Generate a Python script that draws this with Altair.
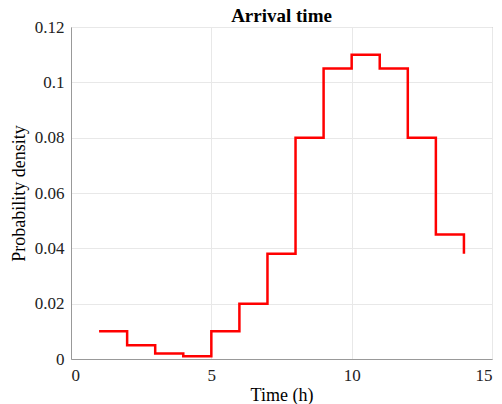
import altair as alt
import pandas as pd

time_h = [1, 2, 3, 4, 5, 6, 7, 8, 9, 10, 11, 12, 13, 14]
density = [0.010, 0.005, 0.002, 0.001, 0.010, 0.020, 0.038, 0.080, 0.105, 0.110, 0.105, 0.080, 0.045, 0.038]

df = pd.DataFrame({"t": time_h, "p": density})

FONT = "Liberation Serif"

chart = alt.Chart(df).mark_line(
    interpolate="step-after", color="#ff0000", strokeWidth=2.5
).encode(
    x=alt.X("t:Q", scale=alt.Scale(domain=[0, 15], nice=False),
            axis=alt.Axis(values=[0, 5, 10, 15], title="Time (h)", format="d",
                          labelPadding=8, titlePadding=3)),
    y=alt.Y("p:Q", scale=alt.Scale(domain=[0, 0.12], nice=False),
            axis=alt.Axis(values=[0, 0.02, 0.04, 0.06, 0.08, 0.1, 0.12],
                          format=".2~f", title="Probability density",
                          labelPadding=7, titlePadding=6)),
).properties(
    width=421, height=332,
    background="white",
    title=alt.TitleParams("Arrival time", font=FONT, fontSize=19, fontWeight="bold",
                          anchor="middle", offset=-8, color="#000000"),
    autosize=alt.AutoSizeParams(type="none"),
    padding={"left": 71, "top": 27, "right": 10, "bottom": 45},
).configure_axis(
    labelFont=FONT, titleFont=FONT, labelFontSize=17, titleFontSize=18,
    titleFontWeight="normal", labelColor="#222222", titleColor="#000000",
    domainColor="#999999", tickColor="#999999", tickSize=0,
    gridColor="#e8e8e8",
).configure_view(
    stroke="#999999", strokeWidth=1
)

chart.save("out.html", embed_options={"renderer": "svg", "actions": False})
